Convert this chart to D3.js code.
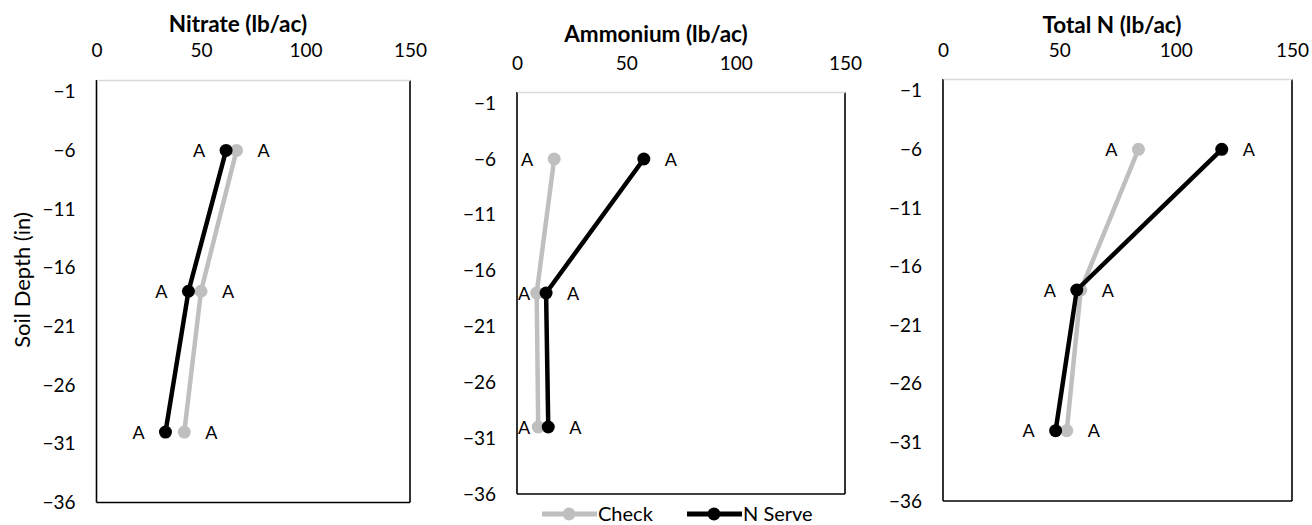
<!DOCTYPE html>
<html>
<head>
<meta charset="utf-8">
<script src="https://cdn.jsdelivr.net/npm/d3@7"></script>
<style>
  body { margin: 0; background: #fff; }
  svg text { font-family: Lato, "Open Sans", sans-serif; fill: #000; }
</style>
</head>
<body>
<script>
// soil depth of each sample (in)
var depths = [-6, -18, -30];
var depthTicks = [-1, -6, -11, -16, -21, -26, -31, -36];
var valueTicks = [0, 50, 100, 150];

var nitrateCheck  = [67, 50, 42];
var nitrateNServe = [62, 44, 33];
var ammoniumCheck  = [17, 9, 9.7];
var ammoniumNServe = [58, 13.3, 14.3];
var totalCheck  = [84, 59.2, 53.2];
var totalNServe = [119.8, 57.5, 48.4];

// significance letters
var nitrateCheckLetters  = ['A', 'A', 'A'];
var nitrateNServeLetters = ['A', 'A', 'A'];
var ammoniumCheckLetters  = ['A', 'A', 'A'];
var ammoniumNServeLetters = ['A', 'A', 'A'];
var totalCheckLetters  = ['A', 'A', 'A'];
var totalNServeLetters = ['A', 'A', 'A'];

var grey = '#bfbfbf';
var black = '#000000';

var panels = [
  {title: 'Nitrate (lb/ac)', check: nitrateCheck, nserve: nitrateNServe,
   checkL: nitrateCheckLetters, nserveL: nitrateNServeLetters,
   left: 96.5, right: 410, top: 80, bottom: 502.5, titleX: 238, titleY: 32, tickY: 57},
  {title: 'Ammonium (lb/ac)', check: ammoniumCheck, nserve: ammoniumNServe,
   checkL: ammoniumCheckLetters, nserveL: ammoniumNServeLetters,
   left: 517, right: 845, top: 92, bottom: 494, titleX: 656, titleY: 42, tickY: 70},
  {title: 'Total N (lb/ac)', check: totalCheck, nserve: totalNServe,
   checkL: totalCheckLetters, nserveL: totalNServeLetters,
   left: 943, right: 1292, top: 79, bottom: 501, titleX: 1112, titleY: 33, tickY: 57}
];

var svg = d3.select('body').append('svg')
    .attr('width', 1312)
    .attr('height', 525);

panels.forEach(function(p) {
  var x = d3.scaleLinear().domain([0, 150]).range([p.left, p.right]);
  var y = d3.scaleLinear().domain([-36, 0]).range([p.bottom, p.top]);
  var g = svg.append('g');

  // plot frame: black sides and bottom, grey axis line on top
  g.append('line').attr('x1', p.left).attr('x2', p.left).attr('y1', p.top).attr('y2', p.bottom)
   .attr('stroke', black).attr('stroke-width', 1.6);
  g.append('line').attr('x1', p.right).attr('x2', p.right).attr('y1', p.top).attr('y2', p.bottom)
   .attr('stroke', black).attr('stroke-width', 1.6);
  g.append('line').attr('x1', p.left).attr('x2', p.right).attr('y1', p.bottom).attr('y2', p.bottom)
   .attr('stroke', black).attr('stroke-width', 1.6);

  var xAxis = g.append('g')
      .attr('transform', 'translate(0,' + p.top + ')')
      .call(d3.axisTop(x).tickValues(valueTicks).tickSize(0).tickPadding(p.top - p.tickY));
  xAxis.select('.domain').attr('stroke', '#d9d9d9').attr('stroke-width', 1.6);
  xAxis.selectAll('text').style('font-size', '19px').attr('dy', 0);

  var yAxis = g.append('g')
      .attr('transform', 'translate(' + p.left + ',0)')
      .call(d3.axisLeft(y).tickValues(depthTicks).tickSize(0).tickPadding(21));
  yAxis.select('.domain').remove();
  yAxis.selectAll('text').style('font-size', '19px');

  g.append('text')
   .attr('x', p.titleX).attr('y', p.titleY)
   .attr('text-anchor', 'middle')
   .style('font-size', '22.5px').style('font-weight', 'bold')
   .text(p.title);

  var line = d3.line()
      .x(function(d) { return x(d[0]); })
      .y(function(d) { return y(d[1]); });

  var series = [
    {vals: p.check, other: p.nserve, letters: p.checkL, color: grey},
    {vals: p.nserve, other: p.check, letters: p.nserveL, color: black}
  ];

  series.forEach(function(s) {
    var pts = s.vals.map(function(v, i) { return [v, depths[i]]; });
    g.append('path').datum(pts)
     .attr('d', line)
     .attr('fill', 'none')
     .attr('stroke', s.color)
     .attr('stroke-width', 4.5)
     .attr('stroke-linejoin', 'round');
    g.selectAll(null).data(pts).enter().append('circle')
     .attr('cx', function(d) { return x(d[0]); })
     .attr('cy', function(d) { return y(d[1]); })
     .attr('r', 6.5)
     .attr('fill', s.color);
  });

  // letters: the larger value of the pair gets its label on the right
  series.forEach(function(s) {
    g.selectAll(null).data(s.vals).enter().append('text')
     .attr('x', function(v, i) {
       var side = v >= s.other[i] ? 1 : -1;
       var lx = x(v) + side * 27;
       return Math.max(p.left + 7, Math.min(p.right - 7, lx));
     })
     .attr('y', function(v, i) { return y(depths[i]); })
     .attr('dy', '0.37em')
     .attr('text-anchor', 'middle')
     .style('font-size', '18px')
     .text(function(v, i) { return s.letters[i]; });
  });
});

// y axis title on the first panel
svg.append('text')
   .attr('transform', 'translate(30,280) rotate(-90)')
   .attr('text-anchor', 'middle')
   .style('font-size', '22px')
   .text('Soil Depth (in)');

// legend under the middle panel
var legend = [
  {name: 'Check', color: grey, x: 542},
  {name: 'N Serve', color: black, x: 687}
];
var lg = svg.append('g').attr('transform', 'translate(0,514)');
legend.forEach(function(d) {
  lg.append('line').attr('x1', d.x).attr('x2', d.x + 55).attr('y1', 0).attr('y2', 0)
    .attr('stroke', d.color).attr('stroke-width', 5);
  lg.append('circle').attr('cx', d.x + 27).attr('cy', 0).attr('r', 6.5).attr('fill', d.color);
  lg.append('text').attr('x', d.x + 56).attr('y', 0).attr('dy', '0.36em')
    .style('font-size', '20px').text(d.name);
});
</script>
</body>
</html>
